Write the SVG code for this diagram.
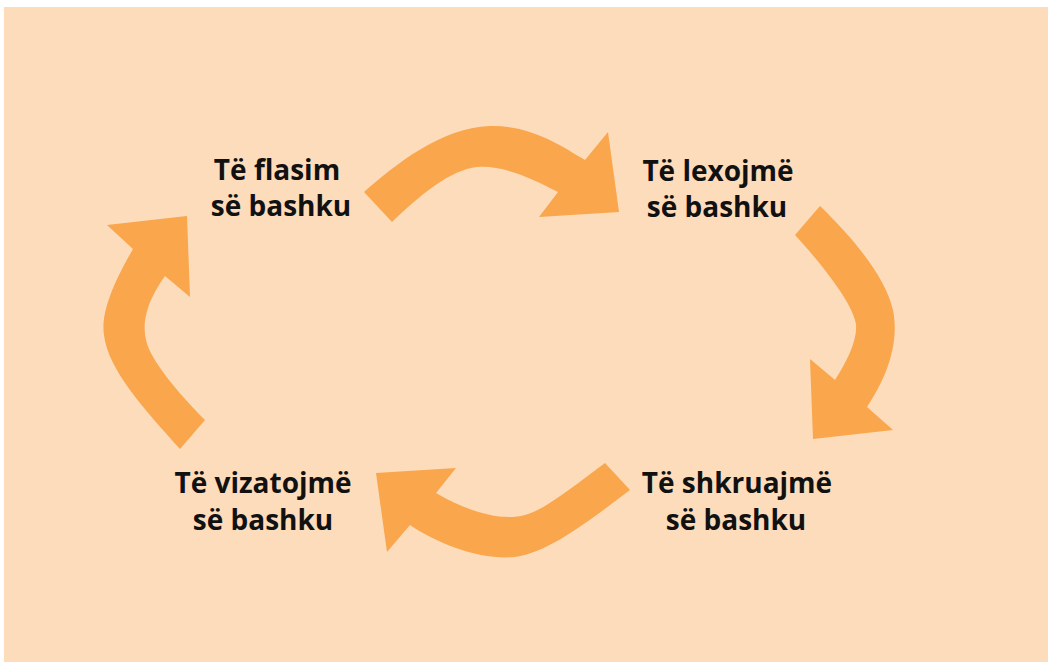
<svg xmlns="http://www.w3.org/2000/svg" width="1048" height="662" viewBox="0 0 1048 662">
<style>
.arrow{fill:#F9A64C;}
.lbl{font-family:"Open Sans","Noto Sans","Liberation Sans",sans-serif;font-weight:700;font-size:28px;fill:#111111;text-anchor:middle;}
</style>
<rect x="0" y="0" width="1048" height="662" fill="#FFFFFF"/>
<rect x="4" y="7" width="1044" height="655" fill="#FDDCBB"/>
<g id="connectors">
<path class="arrow" d="M364,192 C395,165 440,128 490,126 C530,125 560,145 585,160 L608,132 L619,212 L539,217 L558,192 C535,180 505,165 477,167 C450,170 420,195 392,222 Z"/>
<path class="arrow" d="M820,206 C850,235 885,275 893,310 C900,345 885,380 867,407 L893,430 L813,439 L810,359 L835,380 C848,360 860,335 855,320 C850,300 820,262 795,235 Z"/>
<path class="arrow" d="M605,463 C575,485 545,510 525,515 C500,522 465,510 436,493 L456,468 L376,473 L387,552 L410,525 C440,545 480,560 515,557 C550,552 590,520 630,490 Z"/>
<path class="arrow" d="M205,420 C180,395 150,360 146,340 C140,315 155,290 165,276 L190,297 L187,216 L107,225 L133,249 C118,275 100,310 104,335 C108,370 145,410 180,449 Z"/>
</g>
<g id="node-flasim">
<text class="lbl" x="277" y="180">Të flasim</text>
<text class="lbl" x="281" y="216">së bashku</text>
</g>
<g id="node-lexojme">
<text class="lbl" x="718" y="181">Të lexojmë</text>
<text class="lbl" x="717" y="217">së bashku</text>
</g>
<g id="node-shkruajme">
<text class="lbl" x="737" y="493">Të shkruajmë</text>
<text class="lbl" x="736" y="530">së bashku</text>
</g>
<g id="node-vizatojme">
<text class="lbl" x="263" y="493">Të vizatojmë</text>
<text class="lbl" x="263" y="530">së bashku</text>
</g>
</svg>
